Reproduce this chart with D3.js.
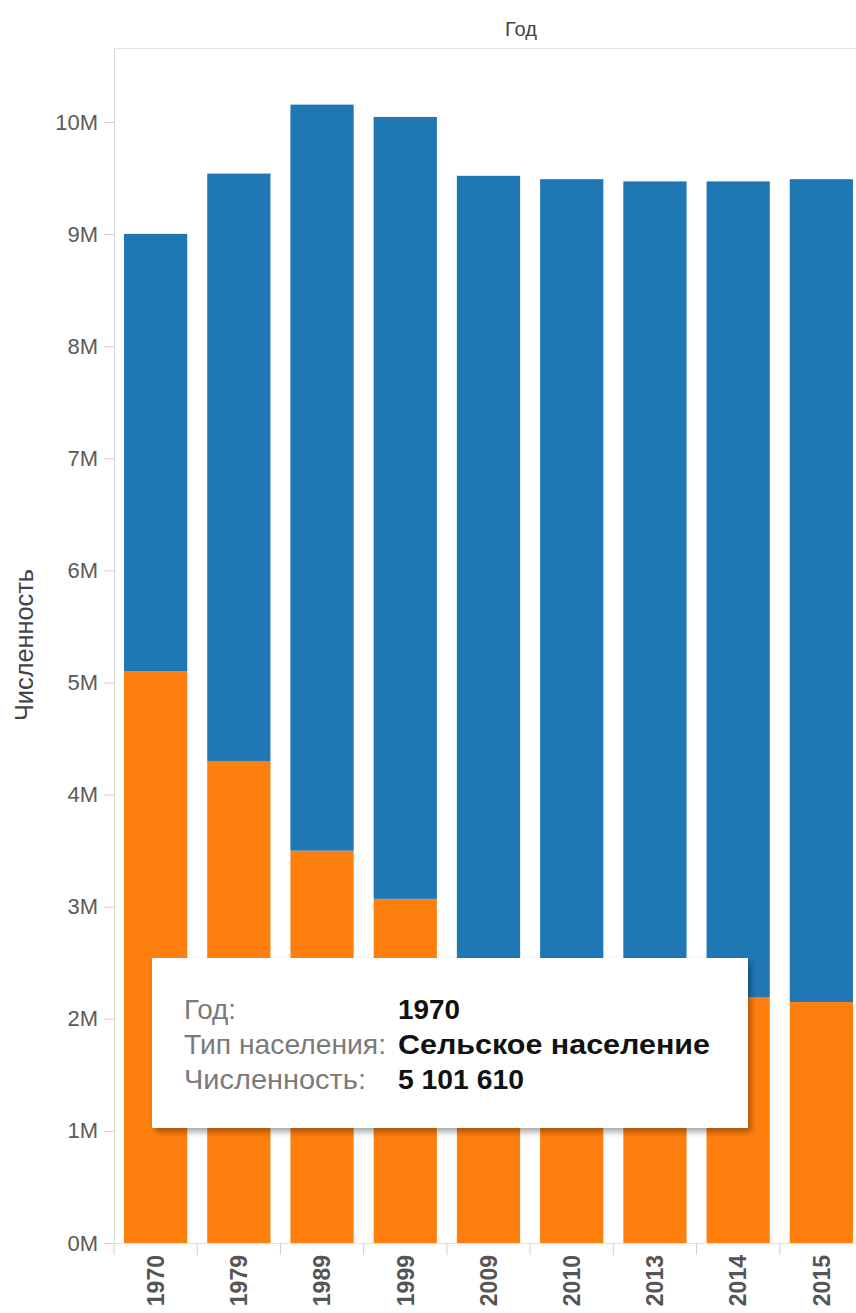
<!DOCTYPE html>
<html>
<head>
<meta charset="utf-8">
<script src="https://cdn.jsdelivr.net/npm/d3@7"></script>
<style>
  html, body { margin: 0; padding: 0; background: #fff; }
  svg { display: block; }
</style>
</head>
<body>
<script>
// ---- data ----
const years = ["1970", "1979", "1989", "1999", "2009", "2010", "2013", "2014", "2015"];
const rural = [5101610, 4300000, 3500000, 3070000, 2430000, 2380000, 2250000, 2190000, 2150000];
const total = [9002000, 9540000, 10155000, 10045000, 9520000, 9490000, 9470000, 9470000, 9490000];
const urban = total.map((t, i) => t - rural[i]);
const yTicks = [0, 1e6, 2e6, 3e6, 4e6, 5e6, 6e6, 7e6, 8e6, 9e6, 10e6];
const seriesNames = ["Сельское население", "Городское население"];
const colors = ["#ff7f0e", "#1f77b4"];
const tooltipIndex = 0;

const W = 856, H = 1313;
const FONT = "Liberation Sans, Arial, sans-serif";
const svg = d3.select("body").append("svg").attr("width", W).attr("height", H);

const x = d3.scaleBand().domain(years).range([114, 863]).paddingInner(0.24).paddingOuter(0.12);
const y = d3.scaleLinear().domain([0, 10e6]).range([1243, 122]);

const plotTop = 48, plotLeft = 114, plotBottom = 1243;

// frame
svg.append("line").attr("x1", plotLeft).attr("x2", W).attr("y1", plotTop + 0.5).attr("y2", plotTop + 0.5)
  .attr("stroke", "#e3e3e3").attr("stroke-width", 1);
svg.append("line").attr("x1", plotLeft + 0.5).attr("x2", plotLeft + 0.5).attr("y1", plotTop).attr("y2", plotBottom)
  .attr("stroke", "#d9d9d9").attr("stroke-width", 1);

// stacked bars
const stackData = years.map((yr, i) => ({ year: yr, r: rural[i], u: urban[i] }));
const stack = d3.stack().keys(["r", "u"])(stackData);
svg.append("g").selectAll("g").data(stack).join("g")
  .attr("fill", (d, i) => colors[i])
  .selectAll("rect").data(d => d).join("rect")
  .attr("x", d => x(d.data.year))
  .attr("width", x.bandwidth())
  .attr("y", d => y(d[1]))
  .attr("height", d => y(d[0]) - y(d[1]));

// y axis
const yAxis = d3.axisLeft(y).tickValues(yTicks).tickFormat(d => (d / 1e6) + "M").tickSize(10).tickPadding(6);
const gy = svg.append("g").attr("transform", `translate(${plotLeft},0)`).call(yAxis);
gy.select(".domain").remove();
gy.selectAll(".tick line").attr("stroke", "#d0d0d0");
gy.selectAll(".tick text").attr("fill", "#5a5a5a").style("font-family", FONT).style("font-size", "22px");

// x axis bottom line & separator ticks
svg.append("line").attr("x1", plotLeft).attr("x2", W).attr("y1", plotBottom + 0.5).attr("y2", plotBottom + 0.5)
  .attr("stroke", "#e0e0e0");
const step = x.step();
const seps = years.map(yr => x(yr) - step * x.paddingInner() / 2);
svg.append("g").selectAll("line").data(seps).join("line")
  .attr("x1", d => d).attr("x2", d => d).attr("y1", plotBottom).attr("y2", plotBottom + 12)
  .attr("stroke", "#cfcfcf");

const xAxis = d3.axisBottom(x).tickSize(0).tickPadding(0);
const gx = svg.append("g").attr("transform", `translate(0,${plotBottom})`).call(xAxis);
gx.select(".domain").remove();
gx.selectAll(".tick text")
  .attr("transform", "translate(0,12) rotate(-90)")
  .attr("text-anchor", "end")
  .attr("dy", "0.36em")
  .attr("y", 0)
  .attr("fill", "#555")
  .style("font-family", FONT)
  .style("font-weight", "bold")
  .style("font-size", "23px");

// titles
svg.append("text").attr("x", 521).attr("y", 36).attr("text-anchor", "middle")
  .attr("fill", "#444").style("font-family", FONT)
  .style("font-size", "21px").attr("textLength", 32).attr("lengthAdjust", "spacingAndGlyphs").text("Год");
svg.append("text").attr("transform", "translate(33,645) rotate(-90)").attr("text-anchor", "middle")
  .attr("fill", "#444").style("font-family", FONT)
  .style("font-size", "25px").attr("textLength", 152).attr("lengthAdjust", "spacingAndGlyphs").text("Численность");

// tooltip
const defs = svg.append("defs");
const f = defs.append("filter").attr("id", "sh").attr("x", "-10%").attr("y", "-10%").attr("width", "130%").attr("height", "140%");
f.append("feDropShadow").attr("dx", 3).attr("dy", 4).attr("stdDeviation", 3).attr("flood-color", "#000").attr("flood-opacity", 0.35);

const tt = svg.append("g").attr("transform", "translate(152,958)");
tt.append("rect").attr("width", 596).attr("height", 170).attr("fill", "#fff").attr("filter", "url(#sh)");
const fmt = v => d3.format(",")(v).replace(/,/g, " ");
const rows = [
  ["Год:", years[tooltipIndex], 52, 62],
  ["Тип населения:", seriesNames[0], 202, 312],
  ["Численность:", fmt(rural[tooltipIndex]), 182, 126]
];
rows.forEach((r, i) => {
  tt.append("text").attr("x", 32).attr("y", 61 + i * 35)
    .attr("fill", "#7a7a7a").style("font-family", FONT)
    .style("font-size", "28px").attr("textLength", r[2]).attr("lengthAdjust", "spacingAndGlyphs").text(r[0]);
  tt.append("text").attr("x", 246).attr("y", 61 + i * 35)
    .attr("fill", "#111").style("font-family", FONT)
    .style("font-weight", "bold").style("font-size", "28px")
    .attr("textLength", r[3]).attr("lengthAdjust", "spacingAndGlyphs").text(r[1]);
});
</script>
</body>
</html>
